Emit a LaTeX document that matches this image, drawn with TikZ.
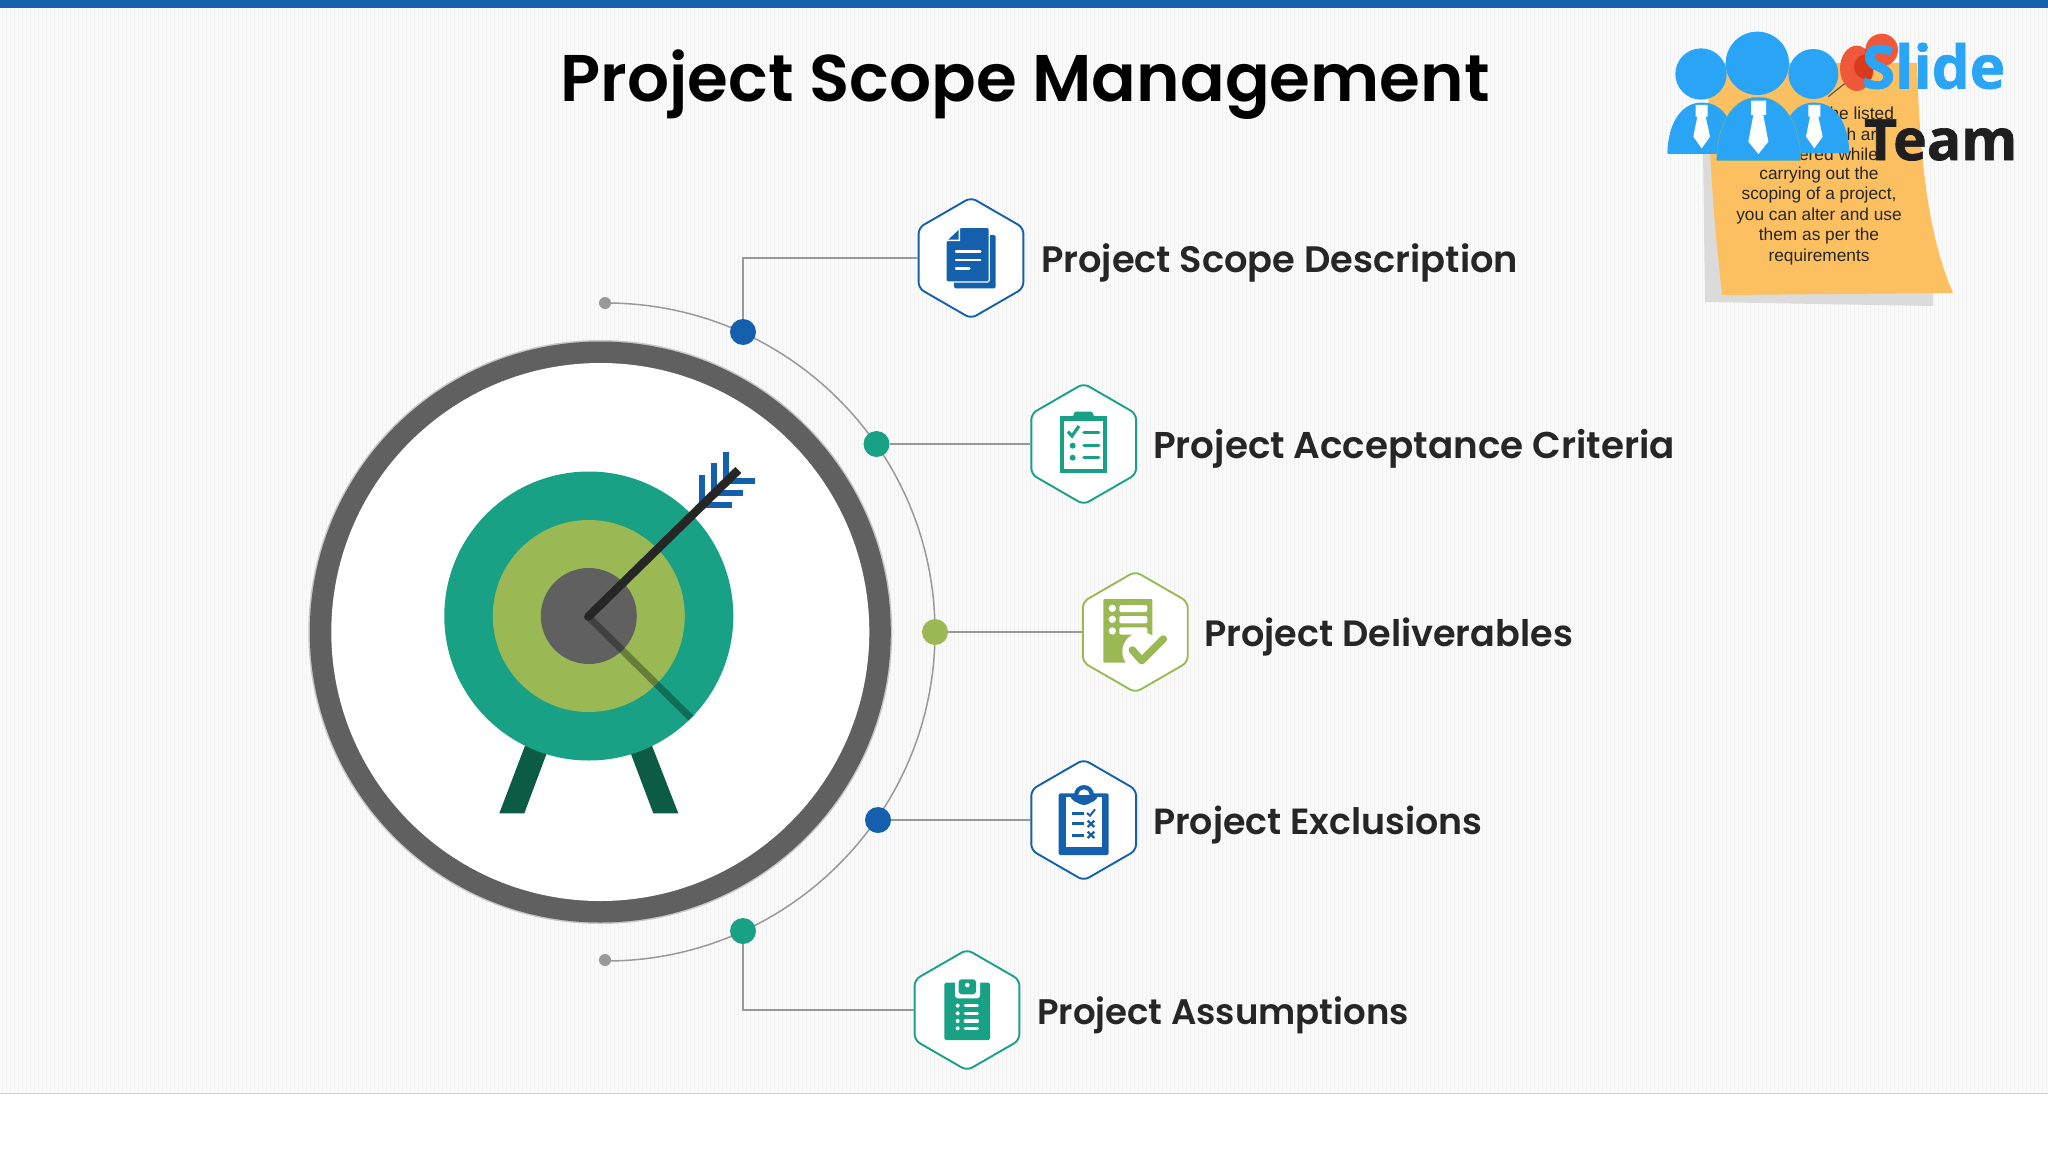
\documentclass[tikz,border=0pt]{standalone}
\usepackage{fontspec}
\setmainfont{Poppins}
\newfontfamily\headfont{Poppins SemiBold}
\newfontfamily\logofont[BoldFeatures={FakeBold=1.2}]{Open Sans}
\newfontfamily\notefont{Liberation Sans}
\usetikzlibrary{shapes.geometric}
\definecolor{mblue}{HTML}{1460AC}
\definecolor{mteal}{HTML}{18A184}
\definecolor{mgreen}{HTML}{9AB955}
\definecolor{mgray}{HTML}{999999}
\definecolor{ring}{HTML}{606060}
\definecolor{leg}{HTML}{0B5B45}
\definecolor{sky}{HTML}{2AA5F5}
\definecolor{noteo}{HTML}{FDC060}
\definecolor{pinr}{HTML}{F0583C}
\definecolor{pind}{HTML}{D83A1C}
\definecolor{ink}{HTML}{262626}
\newcommand\fsz[1]{\fontsize{#1mm}{#1mm}\selectfont}
\tikzset{
 hexbox/.style={regular polygon,regular polygon sides=6,shape border rotate=30,minimum size=121mm,inner sep=0pt,fill=white,draw=#1,line width=1.9mm,rounded corners=6mm},
 dotn/.style={circle,fill=#1,minimum size=26mm,inner sep=0pt},
 enddot/.style={circle,fill=mgray,minimum size=12mm,inner sep=0pt},
 conn/.style={draw=mgray,line width=1.5mm},
 lab/.style={anchor=west,inner sep=0pt,font=\headfont\fsz{#1},text=ink},
 notel/.style={inner sep=0pt,font=\notefont\fsz{17.3},text=ink},
}
\begin{document}
\begin{tikzpicture}[x=1mm,y=-1mm]
\useasboundingbox (0,0) rectangle (2048,1152);
% background
\fill[white] (0,0) rectangle (2048,1152);
\fill[black!2] (0,0) rectangle (2048,1093);
\foreach \i in {2,6,...,2046}{\draw[black!5,line width=1mm] (\i,0) -- (\i,1093);}
\draw[black!18,line width=.8mm] (0,1093.5) -- (2048,1093.5);
\fill[mblue] (0,0) rectangle (2048,8);
% title
\node[inner sep=0pt,font=\headfont\fsz{66},text=black] (title) at (1025,85) {Project Scope Management};
% arc and ends
\coordinate (a0) at (606,303);
\draw[conn] (a0) arc[start angle=-90,end angle=90,radius=329];
\node[enddot] (e1) at (605,303) {};
\node[enddot] (e2) at (605,960) {};
% ring
\fill[black!22] (600.3,632) circle (292);
\fill[ring] (600.3,632) circle (290.5);
\fill[white] (600.3,632) circle (269);
% target
\fill[leg] (525.3,745) -- (546.7,753.3) -- (524.3,813.3) -- (499.3,813.3) -- cycle;
\fill[leg] (651.7,745) -- (630.7,753.3) -- (653.3,813.3) -- (678.3,813.3) -- cycle;
\fill[mteal] (588.8,616) circle (144.5);
\fill[mgreen] (588.8,616) circle (96);
\fill[ring] (588.8,616) circle (48);
\begin{scope}
\clip (588.8,616) circle (144.5);
\draw[black,opacity=.32,line width=7mm] (588.3,616.7) -- (700,727);
\end{scope}
\foreach \x/\a/\b in {702/475/507,713.7/463/497,725.7/451.7/485}{\fill[mblue] (\x-3,\a) rectangle (\x+3,\b);}
\foreach \y/\a/\b in {504.5/706/731.7,492.8/718/743,480.7/730/755}{\fill[mblue] (\a,\y-3) rectangle (\b,\y+3);}
\draw[black!85,line width=8.5mm] (588.3,616.7) -- (738.3,470);
\fill[black!85] (588.3,616.7) circle (4.2);
% hexagons
\node[hexbox=mblue] (h1) at (971,258) {};
\node[hexbox=mteal] (h2) at (1083.7,444) {};
\node[hexbox=mgreen] (h3) at (1135.3,632) {};
\node[hexbox=mblue] (h4) at (1083.7,820) {};
\node[hexbox=mteal] (h5) at (967,1010) {};
% dots
\node[dotn=mblue] (d1) at (743,332) {};
\node[dotn=mteal] (d2) at (876.5,444) {};
\node[dotn=mgreen] (d3) at (935,632) {};
\node[dotn=mblue] (d4) at (878,820) {};
\node[dotn=mteal] (d5) at (743,931) {};
% connectors
\draw[conn] (d1) |- (h1.west);
\draw[conn] (d2) -- (h2.west);
\draw[conn] (d3) -- (h3.west);
\draw[conn] (d4) -- (h4.west);
\draw[conn] (d5) |- (h5.west);
% labels
\node[lab=36.8] (l1) at (1041,263) {Project Scope Description};
\node[lab=37.3] (l2) at (1153,449) {Project Acceptance Criteria};
\node[lab=36.6] (l3) at (1204,637) {Project Deliverables};
\node[lab=36.4] (l4) at (1153,825) {Project Exclusions};
\node[lab=35.5] (l5) at (1037,1015) {Project Assumptions};
% icon 1,2
\begin{scope}[shift={(880,180)},x=1mm/3,y=-1mm/3]
\fill[mblue,rounded corners=1.5mm] (222,165) rectangle (347,325);
\draw[white,line width=1.2mm,fill=mblue,rounded corners=1.5mm] (240,142) -- (328,142) -- (328,306) -- (198,306) -- (198,183) -- cycle;
\fill[white] (240,145) -- (240,183) -- (200,183) -- cycle;
\fill[mblue] (236,150) -- (236,179) -- (205,179) -- cycle;
\draw[white,line width=2.4mm,line cap=round] (228,215) -- (301,215) (228,240) -- (301,240) (228,265) -- (268,265);
% icon 2
\fill[mteal] (540,708) rectangle (680,878);
\fill[white] (552,722) rectangle (668,866);
\fill[mteal,rounded corners=1mm] (584,695) -- (636,695) -- (648,722) -- (575,722) -- cycle;
\draw[mteal,line width=3.2mm] (564,755) -- (576,768) -- (597,738);
\fill[mteal] (578,797) circle (9) (578,833) circle (9);
\draw[mteal,line width=3.6mm,line cap=round] (612,758) -- (656,758) (612,797) -- (656,797) (612,833) -- (656,833);
\end{scope}
% icon 3,4,5
\begin{scope}[shift={(880,560)},x=1mm/3,y=-1mm/3]
\fill[mgreen,rounded corners=1mm] (670,117) rectangle (817,308);
\fill[white,rounded corners=2mm] (718,135) rectangle (802,156) (718,168) rectangle (802,190) (718,202) rectangle (802,224);
\fill[white] (697,145) circle (11) (697,178) circle (11) (697,213) circle (11);
\fill[white] (785,275) circle (58);
\draw[mgreen,line width=7.5mm,line cap=round,line join=round] (757,270) -- (785,302) -- (850,237);
% icon 4
\fill[mblue,rounded corners=1.5mm] (536,700) rectangle (686,885);
\fill[white] (557,712) rectangle (665,862);
\fill[mblue] (612,705) circle (30);
\fill[white] (612,705) circle (17);
\fill[mblue] (570,705) -- (654,705) .. controls (650,740) and (574,740) .. (570,705) -- cycle;
\draw[mblue,line width=3mm] (577,759) -- (612,759) (577,791) -- (612,791) (577,825) -- (612,825);
\draw[mblue,line width=2mm] (621,759) -- (630,767) -- (645,748);
\draw[mblue,line width=2.2mm] (623,782) -- (643,801) (643,782) -- (623,801) (623,815) -- (643,834) (643,815) -- (623,834);
% icon 5
\fill[mteal,rounded corners=1.5mm] (193,1268) rectangle (330,1440);
\fill[white,rounded corners=3mm] (225,1256) rectangle (300,1315);
\fill[mteal,rounded corners=3mm] (236,1258) rectangle (288,1303);
\fill[white] (262,1275) circle (7);
\draw[white,line width=3.4mm,line cap=round] (256,1337) -- (292,1337) (256,1360) -- (292,1360) (256,1383) -- (292,1383) (256,1405) -- (292,1405);
\fill[white] (233,1337) circle (6) (233,1360) circle (6) (233,1383) circle (6) (233,1405) circle (6);
\end{scope}
% sticky note
\fill[black!14] (1703,150) -- (1705,302) -- (1933,306) -- (1933,290) -- cycle;
\fill[noteo] (1708,63) -- (1917,63) .. controls (1920,170) and (1930,240) .. (1953,293) -- (1722,295) .. controls (1715,230) and (1708,160) .. (1708,63) -- cycle;
\node[notel,anchor=east] (n1) at (1894,113) {he listed};
\node[notel,anchor=east] (n2) at (1886,134) {h are};
\node[notel,anchor=east] (n3) at (1878,154) {dered while};
\node[notel] (n4) at (1819,175) {carrying out the};
\node[notel] (n5) at (1819,195) {scoping of a project,};
\node[notel] (n6) at (1819,216) {you can alter and use};
\node[notel] (n7) at (1819,236) {them as per the};
\node[notel] (n8) at (1819,257) {requirements};
% logo
\begin{scope}[shift={(1640,0)},x=1mm/3,y=-1mm/3]
\draw[black!65,line width=1.2mm] (615,250) -- (565,290);
\fill[pinr] (650,205) ellipse (50 and 68);
\fill[pinr] (725,150) circle (49);
\begin{scope}
\clip (650,205) ellipse (50 and 68);
\fill[pind] (725,150) circle (49);
\fill[pind] (680,200) circle (38);
\end{scope}
\fill[sky] (183,222) circle (77) (520,222) circle (75);
\fill[sky,rounded corners=1mm] (82,462) .. controls (85,360) and (130,308) .. (186,308) .. controls (245,308) and (285,360) .. (290,462) -- cycle;
\fill[sky,rounded corners=1mm] (420,460) .. controls (425,360) and (465,308) .. (522,308) .. controls (580,308) and (625,360) .. (628,460) -- cycle;
\fill[white] (167,315) rectangle (203,350) (172,350) -- (160,410) -- (185,445) -- (210,410) -- (197,350) -- cycle;
\fill[white] (505,315) rectangle (541,350) (510,350) -- (498,410) -- (523,445) -- (548,410) -- (535,350) -- cycle;
\fill[sky] (352,190) circle (95);
\fill[sky,draw=mgreen!70!sky,line width=.5mm,rounded corners=1mm] (230,482) .. controls (232,360) and (285,292) .. (355,292) .. controls (425,292) and (480,360) .. (482,482) -- cycle;
\fill[white] (333,302) rectangle (378,345) (340,345) -- (325,425) -- (355,462) -- (385,425) -- (370,345) -- cycle;
\end{scope}
\node[inner sep=0pt,anchor=west,font=\logofont\fsz{60}\bfseries,text=sky] (slide) at (1862,66) {Slide};
\node[inner sep=0pt,anchor=west,font=\logofont\fsz{57}\bfseries,text=black!88] (team) at (1864,140) {Team};
\end{tikzpicture}
\end{document}
